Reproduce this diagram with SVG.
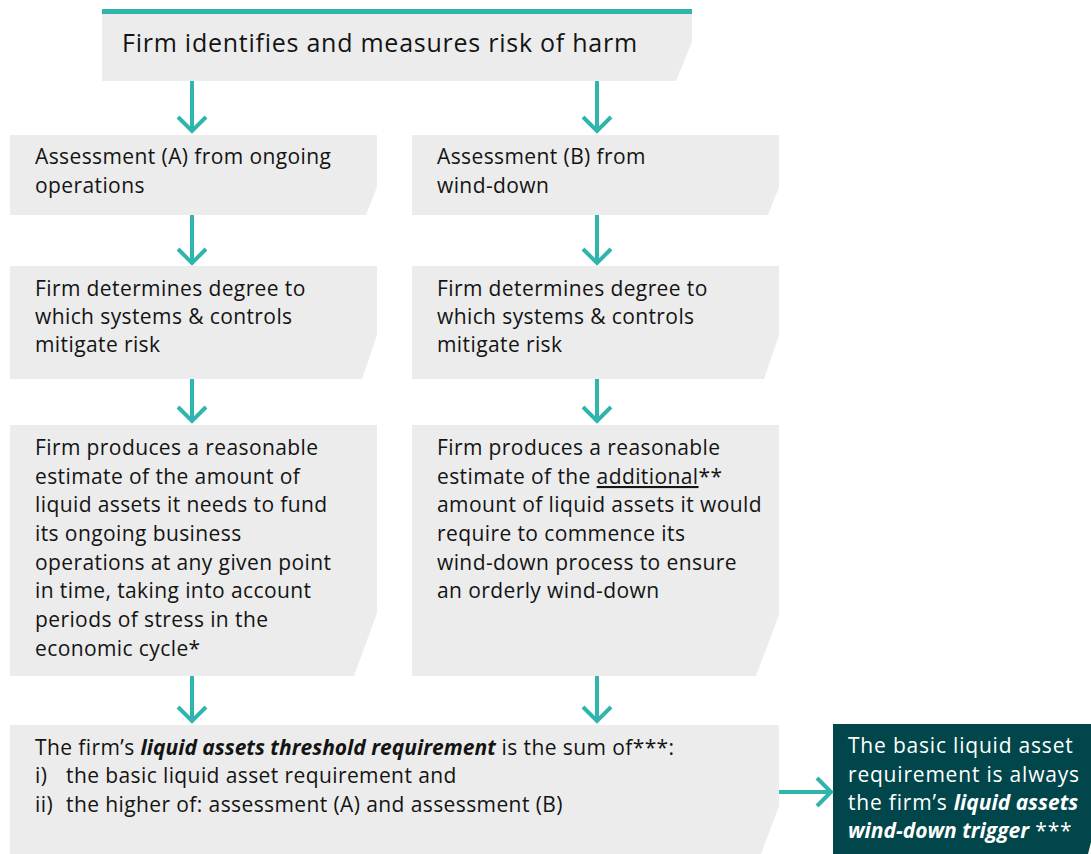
<svg xmlns="http://www.w3.org/2000/svg" width="1091" height="854" viewBox="0 0 1091 854">
<style>
.box{fill:#ececec}
.dark{fill:#00464a}
.t{font-family:"Open Sans","Liberation Sans",sans-serif;font-size:21px;letter-spacing:0.4px;fill:#141414}
.tw{font-family:"Open Sans","Liberation Sans",sans-serif;font-size:21px;letter-spacing:0.8px;fill:#ffffff}
.big{font-size:25px;letter-spacing:0.75px}
.bi{font-weight:bold;font-style:italic;letter-spacing:0px}
.arr{fill:none;stroke:#2fb5ab;stroke-width:4}
</style>
<g id="top">
<polygon class="box" points="102,14 692,14 692,42 676,81 102,81"/>
<rect x="102" y="9" width="590" height="5" fill="#2fb5ab"/>
<text class="t big" x="122" y="52">Firm identifies and measures risk of harm</text>
</g>
<g id="a1">
<polygon class="box" points="10,135 377,135 377,187 366,215 10,215"/>
<text class="t" x="35" y="164">Assessment (A) from ongoing</text>
<text class="t" x="35" y="193">operations</text>
</g>
<g id="b1">
<polygon class="box" points="412,135 779,135 779,187 768,215 412,215"/>
<text class="t" x="437" y="164">Assessment (B) from</text>
<text class="t" x="437" y="193">wind-down</text>
</g>
<g id="a2">
<polygon class="box" points="10,266 377,266 377,335 362,379 10,379"/>
<text class="t" x="35" y="296">Firm determines degree to</text>
<text class="t" x="35" y="324">which systems &amp; controls</text>
<text class="t" x="35" y="352">mitigate risk</text>
</g>
<g id="b2">
<polygon class="box" points="412,266 779,266 779,335 764,379 412,379"/>
<text class="t" x="437" y="296">Firm determines degree to</text>
<text class="t" x="437" y="324">which systems &amp; controls</text>
<text class="t" x="437" y="352">mitigate risk</text>
</g>
<g id="a3">
<polygon class="box" points="10,425 377,425 377,613 354,676 10,676"/>
<text class="t" x="35" y="455">Firm produces a reasonable</text>
<text class="t" x="35" y="484">estimate of the amount of</text>
<text class="t" x="35" y="512">liquid assets it needs to fund</text>
<text class="t" x="35" y="541">its ongoing business</text>
<text class="t" x="35" y="570">operations at any given point</text>
<text class="t" x="35" y="598">in time, taking into account</text>
<text class="t" x="35" y="627">periods of stress in the</text>
<text class="t" x="35" y="656">economic cycle*</text>
</g>
<g id="b3">
<polygon class="box" points="412,425 779,425 779,615 756,676 412,676"/>
<text class="t" x="437" y="455">Firm produces a reasonable</text>
<text class="t" x="437" y="484">estimate of the <tspan text-decoration="underline">additional</tspan>**</text>
<text class="t" x="437" y="512">amount of liquid assets it would</text>
<text class="t" x="437" y="541">require to commence its</text>
<text class="t" x="437" y="570">wind-down process to ensure</text>
<text class="t" x="437" y="598">an orderly wind-down</text>
</g>
<g id="sum">
<polygon class="box" points="10,725 779,725 779,806 761,854 10,854"/>
<text class="t" x="35" y="755">The firm’s <tspan class="bi">liquid assets threshold requirement</tspan> is the sum of***:</text>
<text class="t" x="35" y="783">i)</text>
<text class="t" x="66" y="783">the basic liquid asset requirement and</text>
<text class="t" x="35" y="812">ii)</text>
<text class="t" x="66" y="812">the higher of: assessment (A) and assessment (B)</text>
</g>
<g id="trigger">
<polygon class="dark" points="833,724 1091,724 1091,842 1088,854 833,854"/>
<text class="tw" x="848" y="753">The basic liquid asset</text>
<text class="tw" x="848" y="782">requirement is always</text>
<text class="tw" x="848" y="810">the firm’s <tspan class="bi">liquid assets</tspan></text>
<text class="tw" x="848" y="838"><tspan class="bi">wind-down trigger</tspan> ***</text>
</g>
<g id="connectors">
<path class="arr" d="M192,81 V132 M178,117 L192,131 L206,117"/>
<path class="arr" d="M597,81 V132 M583,117 L597,131 L611,117"/>
<path class="arr" d="M192,215 V264 M178,249 L192,263 L206,249"/>
<path class="arr" d="M597,215 V264 M583,249 L597,263 L611,249"/>
<path class="arr" d="M192,379 V422 M178,407 L192,421 L206,407"/>
<path class="arr" d="M597,379 V422 M583,407 L597,421 L611,407"/>
<path class="arr" d="M192,676 V722 M178,707 L192,721 L206,707"/>
<path class="arr" d="M597,676 V722 M583,707 L597,721 L611,707"/>
<path class="arr" d="M779,792 H831 M817,778 L831,792 L817,806"/>
</g>
</svg>
